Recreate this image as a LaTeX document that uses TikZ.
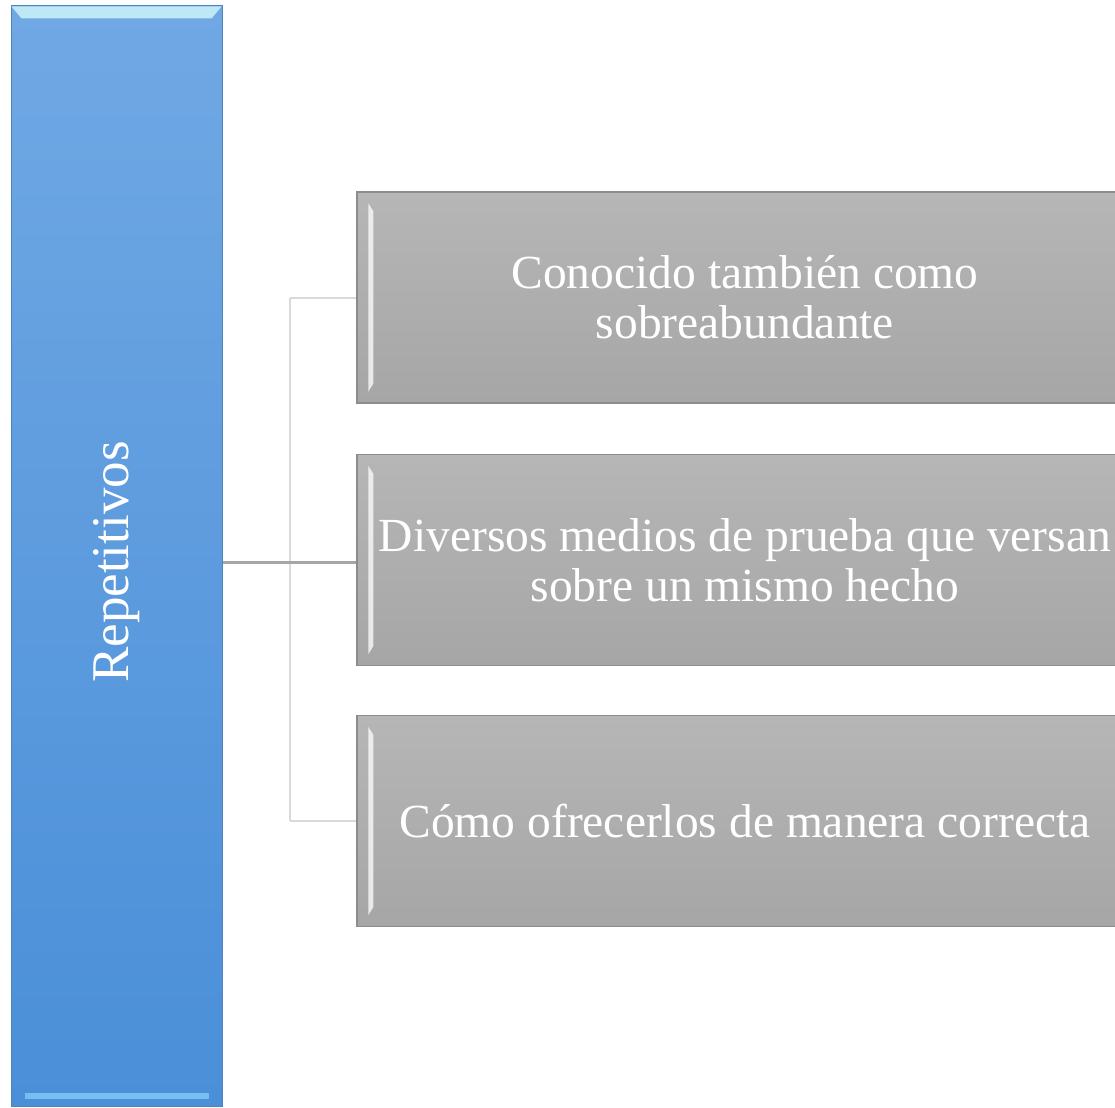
\documentclass[tikz,border=0pt]{standalone}
\usepackage{fontspec}
\setmainfont{Liberation Serif}
\definecolor{bluetop}{RGB}{112,168,228}
\definecolor{bluebot}{RGB}{74,143,216}
\definecolor{blueedge}{RGB}{80,130,190}
\definecolor{bluebevel}{RGB}{190,232,246}
\definecolor{bluebevelb}{RGB}{120,190,240}
\definecolor{graytop}{RGB}{182,182,182}
\definecolor{graybot}{RGB}{166,166,166}
\definecolor{grayedge}{RGB}{140,140,140}
\definecolor{lineclr}{RGB}{217,217,217}
\definecolor{darkclr}{RGB}{166,166,166}
\begin{document}
\begin{tikzpicture}[x=1pt,y=-1pt,
  bluebox/.style={rectangle, draw=blueedge, line width=1pt,
    top color=bluetop, bottom color=bluebot,
    minimum width=211pt, minimum height=1100pt, inner sep=0pt},
  graybox/.style={rectangle, draw=grayedge, line width=1.5pt,
    top color=graytop, bottom color=graybot,
    minimum width=776pt, minimum height=211pt, inner sep=0pt, align=center,
    text=white, font=\fontsize{47.5}{50}\selectfont},
  lightline/.style={draw=lineclr, line width=2pt},
  darkline/.style={draw=darkclr, line width=3pt}
]
\useasboundingbox (0,0) rectangle (1115,1107);
\node[bluebox] (rep) at (116.5,556) {};
\coordinate (j) at (290,562);
\node[rotate=90, text=white, font=\fontsize{53}{60}\selectfont] (reptext) at (rep.center |- j) {Repetitivos};
% bevel highlights on blue box
\fill[bluebevel] ([xshift=1pt,yshift=-1pt]rep.north west) -- ([xshift=-1pt,yshift=-1pt]rep.north east) -- ([xshift=-11pt,yshift=-13pt]rep.north east) -- ([xshift=11pt,yshift=-13pt]rep.north west) -- cycle;
\fill[bluebevelb] ([xshift=14pt,yshift=8pt]rep.south west) rectangle ([xshift=-14pt,yshift=14pt]rep.south east);

\node[graybox] (g1) at (745,297.5) {Conocido también como\\sobreabundante};
\node[graybox] (g2) at (745,560) {Diversos medios de prueba que versan\\sobre un mismo hecho};
\node[graybox] (g3) at (745,821) {Cómo ofrecerlos de manera correcta};
\foreach \g in {g1,g2,g3}{
  \fill[white, opacity=0.75] ([xshift=12pt,yshift=-12pt]\g.north west) -- ([xshift=17pt,yshift=-20pt]\g.north west) -- ([xshift=17pt,yshift=20pt]\g.south west) -- ([xshift=12pt,yshift=12pt]\g.south west) -- cycle;
}

\draw[lightline] (j |- g1.west) -- (j |- g3.west);
\draw[lightline] (j |- g1.west) -- (g1.west);
\draw[lightline] (j |- g3.west) -- (g3.west);
\draw[darkline] (rep.east |- j) -- (j) -- (g2.west |- j);
\end{tikzpicture}
\end{document}
